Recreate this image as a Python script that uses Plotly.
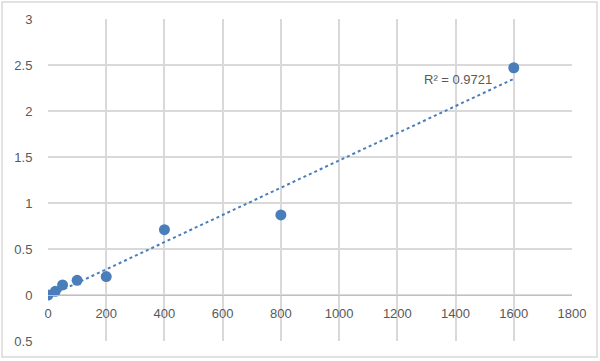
import numpy as np
import plotly.graph_objects as go

conc = [0, 25, 50, 100, 200, 400, 800, 1600]
od = [0.0, 0.04, 0.11, 0.16, 0.2, 0.71, 0.87, 2.47]

x_ticks = [0, 200, 400, 600, 800, 1000, 1200, 1400, 1600, 1800]
y_ticks = [-0.5, 0, 0.5, 1, 1.5, 2, 2.5, 3]
y_ticktext = ["0.5", "0", "0.5", "1", "1.5", "2", "2.5", "3"]
r2_label = "R² = 0.9721"

slope, intercept = np.polyfit(conc, od, 1)
fit_x = [min(conc), max(conc)]
fit_y = [slope * v + intercept for v in fit_x]

blue = "#4a7ebb"
grey_text = "#595959"
grid = "#d9d9d9"

fig = go.Figure()
fig.add_trace(go.Scatter(x=fit_x, y=fit_y, mode="lines",
                         line=dict(color=blue, width=2, dash="dot"),
                         hoverinfo="skip", showlegend=False))
fig.add_trace(go.Scatter(x=conc, y=od, mode="markers",
                         marker=dict(color=blue, size=11),
                         showlegend=False))

fig.add_annotation(x=1408, y=2.34, text=r2_label, showarrow=False,
                   font=dict(family="Liberation Sans", size=13, color=grey_text))

fig.add_shape(type="rect", xref="paper", yref="paper",
              x0=-0.0878, x1=1.0477, y0=-0.0497, y1=1.0528,
              line=dict(color=grid, width=1.5), layer="above")

fig.update_layout(
    width=600, height=361,
    margin=dict(l=48, r=28, t=19, b=20),
    paper_bgcolor="white", plot_bgcolor="white",
    font=dict(family="Liberation Sans", size=13, color=grey_text),
    xaxis=dict(range=[0, 1800], tickvals=x_ticks, showgrid=True,
               gridcolor=grid, gridwidth=1.5, zeroline=False,
               anchor="free", position=0.5 / 3.5, automargin=False,
               showline=True, linecolor="#bfbfbf", linewidth=1,
               ticks="outside", ticklen=6, tickcolor="rgba(0,0,0,0)"),
    yaxis=dict(range=[-0.5, 3], tickvals=y_ticks, ticktext=y_ticktext,
               showgrid=True, gridcolor=grid, gridwidth=1.5,
               zeroline=False, showline=False, automargin=False,
               ticks="outside", ticklen=12, tickcolor="rgba(0,0,0,0)"),
)

fig.write_html("out.html", config={"displayModeBar": False},
               post_script="document.body.style.margin='0';document.body.style.overflow='hidden';")
